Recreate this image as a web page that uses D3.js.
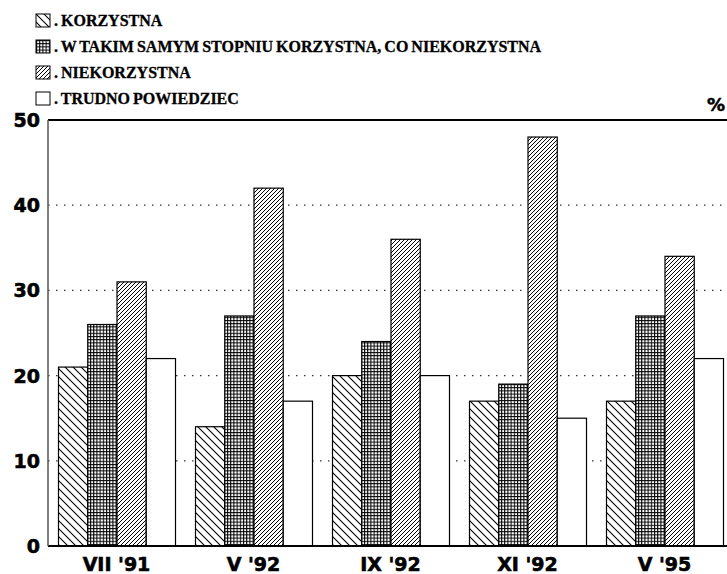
<!DOCTYPE html>
<html>
<head>
<meta charset="utf-8">
<script src="https://cdn.jsdelivr.net/npm/d3@7"></script>
<style>
  body { margin: 0; background: #fff; }
</style>
</head>
<body>
<div id="chart"></div>
<script>
var categories = ["VII '91", "V '92", "IX '92", "XI '92", "V '95"];
var seriesNames = ["KORZYSTNA", "W TAKIM SAMYM STOPNIU KORZYSTNA, CO NIEKORZYSTNA", "NIEKORZYSTNA", "TRUDNO POWIEDZIEC"];
var korzystna = [21, 14, 20, 17, 17];
var wTakimSamym = [26, 27, 24, 19, 27];
var niekorzystna = [31, 42, 36, 48, 34];
var trudno = [22, 17, 20, 15, 22];
var yTicks = [0, 10, 20, 30, 40, 50];

var series = [korzystna, wTakimSamym, niekorzystna, trudno];
var patternIds = ["p-back", "p-grid", "p-fwd", null];

var WIDTH = 727, HEIGHT = 574;
var LEFT = 48, RIGHT = 727, TOP = 120, BOTTOM = 546;

var svg = d3.select("#chart").append("svg")
  .attr("width", WIDTH)
  .attr("height", HEIGHT);

var defs = svg.append("defs");

// backslash hatch
var p1 = defs.append("pattern").attr("id", "p-back")
  .attr("patternUnits", "userSpaceOnUse").attr("width", 8).attr("height", 8);
p1.append("rect").attr("width", 8).attr("height", 8).attr("fill", "#fff");
p1.append("path").attr("d", "M-2,-2 L10,10 M-2,6 L2,10 M6,-2 L10,2")
  .attr("stroke", "#000").attr("stroke-width", 1.1);

// fine grid
var p2 = defs.append("pattern").attr("id", "p-grid")
  .attr("patternUnits", "userSpaceOnUse").attr("width", 3.2).attr("height", 3.2);
p2.append("rect").attr("width", 3.2).attr("height", 3.2).attr("fill", "#fff");
p2.append("path").attr("d", "M0.5,0 V3.2 M0,0.5 H3.2")
  .attr("stroke", "#000").attr("stroke-width", 1.1);

// forward slash hatch
var p3 = defs.append("pattern").attr("id", "p-fwd")
  .attr("patternUnits", "userSpaceOnUse").attr("width", 4).attr("height", 4);
p3.append("rect").attr("width", 4).attr("height", 4).attr("fill", "#fff");
p3.append("path").attr("d", "M-1,5 L5,-1 M-1,1 L1,-1 M3,5 L5,3")
  .attr("stroke", "#000").attr("stroke-width", 1);

var y = d3.scaleLinear().domain([0, 50]).range([BOTTOM, TOP]);

// groups every ~137px, each ~117px wide
var x0 = d3.scaleBand().domain(categories)
  .range([LEFT + 10, LEFT + 675])
  .paddingInner(0.146).paddingOuter(0);

var x1 = d3.scaleBand().domain(d3.range(4)).range([0, x0.bandwidth()]);

// dotted gridlines
svg.append("g").selectAll("line")
  .data(yTicks.filter(function(d) { return d > 0 && d < 50; }))
  .join("line")
  .attr("x1", LEFT).attr("x2", RIGHT)
  .attr("y1", function(d) { return y(d); })
  .attr("y2", function(d) { return y(d); })
  .attr("stroke", "#333")
  .attr("stroke-width", 1.2)
  .attr("stroke-dasharray", "1.5,6.5");

// bars
var groups = svg.append("g").selectAll("g")
  .data(categories)
  .join("g")
  .attr("transform", function(d) { return "translate(" + (x0(d)) + ",0)"; });

groups.selectAll("rect")
  .data(function(d, i) { return series.map(function(s, k) { return { k: k, v: s[i] }; }); })
  .join("rect")
  .attr("x", function(d) { return x1(d.k) + 0.5; })
  .attr("y", function(d) { return y(d.v); })
  .attr("width", x1.bandwidth())
  .attr("height", function(d) { return BOTTOM - y(d.v); })
  .attr("fill", function(d) { return patternIds[d.k] ? "url(#" + patternIds[d.k] + ")" : "#fff"; })
  .attr("stroke", "#000")
  .attr("stroke-width", 1.2);

// frame
svg.append("line").attr("x1", LEFT).attr("x2", RIGHT).attr("y1", TOP).attr("y2", TOP)
  .attr("stroke", "#000").attr("stroke-width", 2.2);
svg.append("line").attr("x1", LEFT).attr("x2", RIGHT).attr("y1", BOTTOM).attr("y2", BOTTOM)
  .attr("stroke", "#000").attr("stroke-width", 2);
svg.append("line").attr("x1", LEFT).attr("x2", LEFT).attr("y1", TOP).attr("y2", BOTTOM)
  .attr("stroke", "#555").attr("stroke-width", 1.5);

// y labels
svg.append("g").selectAll("text")
  .data(yTicks)
  .join("text")
  .attr("x", 40)
  .attr("y", function(d) { return y(d) + 7; })
  .attr("text-anchor", "end")
  .attr("font-family", "DejaVu Sans, sans-serif")
  .attr("font-weight", "bold")
  .attr("font-size", 19)
  .attr("stroke", "#000").attr("stroke-width", 0.6)
  .text(function(d) { return d; });

// x labels
svg.append("g").selectAll("text")
  .data(categories)
  .join("text")
  .attr("x", function(d) { return x0(d) + x0.bandwidth() / 2; })
  .attr("y", 571)
  .attr("text-anchor", "middle")
  .attr("font-family", "DejaVu Sans, sans-serif")
  .attr("font-weight", "bold")
  .attr("font-size", 19)
  .attr("stroke", "#000").attr("stroke-width", 0.6)
  .text(function(d) { return d; });

svg.append("text")
  .attr("x", 725).attr("y", 111)
  .attr("text-anchor", "end")
  .attr("font-family", "DejaVu Sans, sans-serif")
  .attr("font-weight", "bold")
  .attr("font-size", 18)
  .attr("stroke", "#000").attr("stroke-width", 0.5)
  .text("%");

// legend
var legend = svg.append("g").selectAll("g")
  .data(seriesNames)
  .join("g")
  .attr("transform", function(d, i) { return "translate(36," + (14 + i * 26) + ")"; });

legend.append("rect")
  .attr("width", 14).attr("height", 13)
  .attr("fill", function(d, i) { return patternIds[i] ? "url(#" + patternIds[i] + ")" : "#fff"; })
  .attr("stroke", "#000").attr("stroke-width", 1);

legend.append("text")
  .attr("x", 18).attr("y", 12)
  .attr("font-family", "Liberation Serif, serif")
  .attr("font-weight", "bold")
  .attr("font-size", 16)
  .attr("word-spacing", -1)
  .attr("stroke", "#000").attr("stroke-width", 0.3)
  .text(function(d) { return ". " + d; });
</script>
</body>
</html>
